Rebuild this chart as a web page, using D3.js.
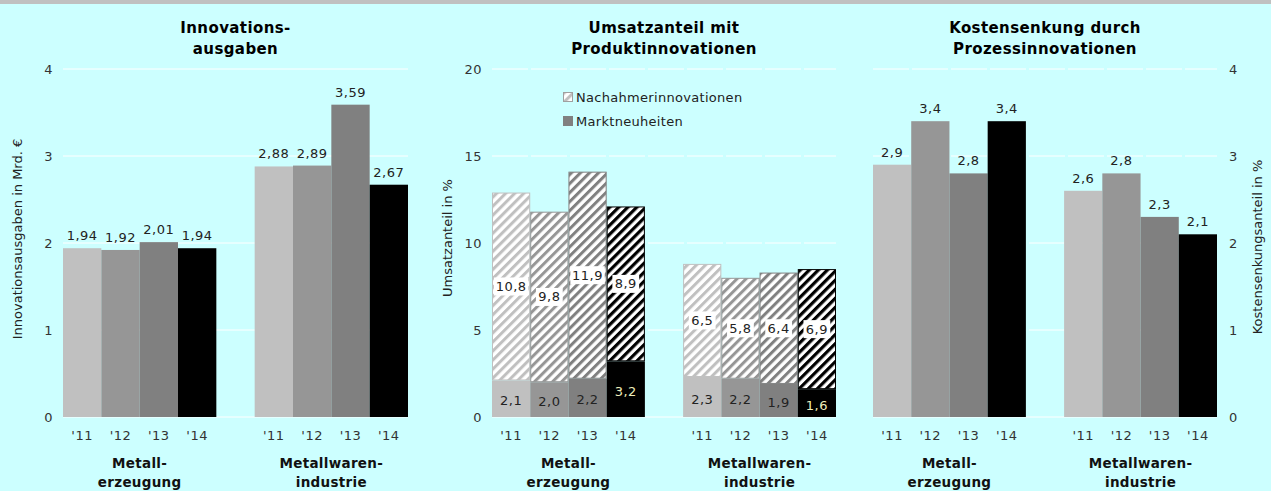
<!DOCTYPE html>
<html>
<head>
<meta charset="utf-8">
<script src="https://cdn.jsdelivr.net/npm/d3@7"></script>
<style>
  html, body { margin: 0; padding: 0; background: #ccffff; }
  svg { display: block; font-family: "DejaVu Sans", Verdana, sans-serif; }
</style>
</head>
<body>
<svg id="canvas"></svg>
<script>
const years = ["'11", "'12", "'13", "'14"];
const groups = ["Metallerzeugung", "Metallwarenindustrie"];
const groupLabels = [["Metall-", "erzeugung"], ["Metallwaren-", "industrie"]];

// Innovationsausgaben in Mrd. €
const ausgaben = [[1.94, 1.92, 2.01, 1.94], [2.88, 2.89, 3.59, 2.67]];
// Umsatzanteil in %
const marktneuheiten = [[2.1, 2.0, 2.2, 3.2], [2.3, 2.2, 1.9, 1.6]];
const nachahmer = [[10.8, 9.8, 11.9, 8.9], [6.5, 5.8, 6.4, 6.9]];
// Kostensenkungsanteil in %
const kostensenkung = [[2.9, 3.4, 2.8, 3.4], [2.6, 2.8, 2.3, 2.1]];

const ticksAusgaben = [0, 1, 2, 3, 4];
const ticksUmsatz = [0, 5, 10, 15, 20];
const ticksKosten = [0, 1, 2, 3, 4];

const yearColors = ["#c0c0c0", "#969696", "#808080", "#000000"];
const locale = d3.formatLocale({ decimal: ",", thousands: ".", grouping: [3], currency: ["", "€"] });
const f2 = locale.format(".2f");
const f1 = locale.format(".1f");

const W = 1271, H = 491;
const svg = d3.select("#canvas").attr("width", W).attr("height", H);

svg.append("rect").attr("width", W).attr("height", H).attr("fill", "#ccffff");
svg.append("rect").attr("width", W).attr("height", 4).attr("fill", "#c0c0c0");

// hatch patterns
const defs = svg.append("defs");
yearColors.forEach((c, i) => {
    const p = defs.append("pattern")
        .attr("id", "hatch" + i)
        .attr("patternUnits", "userSpaceOnUse")
        .attr("width", 6.4).attr("height", 6.4)
        .attr("patternTransform", "rotate(45)");
    p.append("rect").attr("width", 6.4).attr("height", 6.4).attr("fill", "#ffffff");
    p.append("rect").attr("x", 0).attr("width", i === 3 ? 3.2 : 3).attr("height", 6.4).attr("fill", c);
});

const yTop = 69, yBottom = 417;

const makePanel = (x0, x1, max) => {
    const xGroup = d3.scaleBand().domain(groups).range([x0, x1]).paddingInner(0.2).paddingOuter(0);
    const xYear = d3.scaleBand().domain(years).range([0, xGroup.bandwidth()]).padding(0);
    const y = d3.scaleLinear().domain([0, max]).range([yBottom, yTop]);
    return { xGroup, xYear, y, x0, x1 };
};

const drawGrid = (p, ticks, dashed) => {
    svg.append("g")
        .selectAll("line")
        .data(ticks)
        .enter()
        .append("line")
        .attr("x1", p.x0).attr("x2", p.x1)
        .attr("y1", d => p.y(d)).attr("y2", d => p.y(d))
        .attr("stroke", "#ffffff")
        .attr("stroke-width", 1)
        .attr("stroke-dasharray", d => (dashed && d > 0) ? "36,3" : null);
};

const drawTicks = (p, ticks, side) => {
    const axis = side === "left" ? d3.axisLeft(p.y) : d3.axisRight(p.y);
    const g = svg.append("g")
        .attr("transform", "translate(" + (side === "left" ? p.x0 : p.x1) + ",0)")
        .call(axis.tickValues(ticks).tickSize(0).tickPadding(side === "left" ? 10 : 12).tickFormat(d3.format("d")));
    g.select(".domain").remove();
    g.selectAll("text")
        .attr("font-family", "DejaVu Sans, Verdana, sans-serif")
        .attr("font-size", 13)
        .attr("letter-spacing", 0.5)
        .attr("fill", "#333333");
};

const drawXLabels = p => {
    groups.forEach((gname, gi) => {
        svg.append("g")
            .selectAll("text")
            .data(years)
            .enter()
            .append("text")
            .attr("x", d => p.xGroup(gname) + p.xYear(d) + p.xYear.bandwidth() / 2)
            .attr("y", 440)
            .attr("text-anchor", "middle")
            .attr("font-size", 13)
            .attr("letter-spacing", 0.5)
            .attr("fill", "#333333")
            .text(d => d);
        const cx = p.xGroup(gname) + p.xGroup.bandwidth() / 2;
        const t = svg.append("text")
            .attr("x", cx).attr("y", 468)
            .attr("text-anchor", "middle")
            .attr("font-size", 13.5)
            .attr("font-weight", "bold")
            .attr("letter-spacing", 0.3)
            .attr("fill", "#111111");
        t.append("tspan").attr("x", cx).attr("dy", 0).text(groupLabels[gi][0]);
        t.append("tspan").attr("x", cx).attr("dy", 19).text(groupLabels[gi][1]);
    });
};

const drawTitle = (p, lines) => {
    const cx = (p.x0 + p.x1) / 2;
    const t = svg.append("text")
        .attr("x", cx).attr("y", 33)
        .attr("text-anchor", "middle")
        .attr("font-size", 15)
        .attr("font-weight", "bold")
        .attr("letter-spacing", 0.4)
        .attr("fill", "#000000");
    t.append("tspan").attr("x", cx).attr("dy", 0).text(lines[0]);
    t.append("tspan").attr("x", cx).attr("dy", 21).text(lines[1]);
};

const drawAxisTitle = (x, y, text) => {
    svg.append("text")
        .attr("transform", "translate(" + x + "," + y + ") rotate(-90)")
        .attr("text-anchor", "middle")
        .attr("dy", "0.35em")
        .attr("font-size", 13)
        .attr("fill", "#222222")
        .text(text);
};

const drawSimpleBars = (p, values, fmt) => {
    groups.forEach((gname, gi) => {
        const g = svg.append("g");
        g.selectAll("rect")
            .data(values[gi])
            .enter()
            .append("rect")
            .attr("x", (d, i) => p.xGroup(gname) + p.xYear(years[i]))
            .attr("y", d => p.y(d))
            .attr("width", p.xYear.bandwidth())
            .attr("height", d => p.y(0) - p.y(d))
            .attr("fill", (d, i) => yearColors[i]);
        g.selectAll("text")
            .data(values[gi])
            .enter()
            .append("text")
            .attr("x", (d, i) => p.xGroup(gname) + p.xYear(years[i]) + p.xYear.bandwidth() / 2)
            .attr("y", d => p.y(d) - 8)
            .attr("text-anchor", "middle")
            .attr("font-size", 13)
            .attr("letter-spacing", 0.5)
            .attr("fill", "#222222")
            .text(d => fmt(d));
    });
};

// panels
const p1 = makePanel(63, 408, 4);
const p2 = makePanel(492, 836, 20);
const p3 = makePanel(873, 1217, 4);

drawGrid(p1, ticksAusgaben, false);
drawGrid(p2, ticksUmsatz, true);
drawGrid(p3, ticksKosten, true);

drawTicks(p1, ticksAusgaben, "left");
drawTicks(p2, ticksUmsatz, "left");
drawTicks(p3, ticksKosten, "right");

drawTitle(p1, ["Innovations-", "ausgaben"]);
drawTitle(p2, ["Umsatzanteil mit", "Produktinnovationen"]);
drawTitle(p3, ["Kostensenkung durch", "Prozessinnovationen"]);

drawAxisTitle(17, 239, "Innovationsausgaben in Mrd. €");
drawAxisTitle(447, 238, "Umsatzanteil in %");
drawAxisTitle(1257, 247, "Kostensenkungsanteil in  %");

drawXLabels(p1);
drawXLabels(p2);
drawXLabels(p3);

drawSimpleBars(p1, ausgaben, f2);
drawSimpleBars(p3, kostensenkung, f1);

// stacked panel
groups.forEach((gname, gi) => {
    const g = svg.append("g");
    const bw = p2.xYear.bandwidth();
    const xs = i => p2.xGroup(gname) + p2.xYear(years[i]);

    // Marktneuheiten (bottom)
    g.selectAll("rect.mn")
        .data(marktneuheiten[gi])
        .enter()
        .append("rect")
        .attr("class", "mn")
        .attr("x", (d, i) => xs(i))
        .attr("y", d => p2.y(d))
        .attr("width", bw)
        .attr("height", d => p2.y(0) - p2.y(d))
        .attr("fill", (d, i) => yearColors[i]);

    // Nachahmerinnovationen (top, hatched)
    g.selectAll("rect.na")
        .data(nachahmer[gi])
        .enter()
        .append("rect")
        .attr("class", "na")
        .attr("x", (d, i) => xs(i) + 0.5)
        .attr("y", (d, i) => p2.y(marktneuheiten[gi][i] + d) + 0.5)
        .attr("width", bw - 1)
        .attr("height", (d, i) => p2.y(marktneuheiten[gi][i]) - p2.y(marktneuheiten[gi][i] + d) - 1)
        .attr("fill", (d, i) => "url(#hatch" + i + ")")
        .attr("stroke", (d, i) => yearColors[i])
        .attr("stroke-width", 1);

    // labels for Nachahmer with white box
    nachahmer[gi].forEach((d, i) => {
        const cy = (p2.y(marktneuheiten[gi][i]) + p2.y(marktneuheiten[gi][i] + d)) / 2;
        const cx = xs(i) + bw / 2;
        const txt = f1(d);
        const tw = txt.length * 7.6;
        g.append("rect")
            .attr("x", cx - tw / 2 - 2).attr("y", cy - 9)
            .attr("width", tw + 4).attr("height", 18)
            .attr("fill", "#ffffff");
        g.append("text")
            .attr("x", cx).attr("y", cy)
            .attr("dy", "0.35em")
            .attr("text-anchor", "middle")
            .attr("font-size", 13)
            .attr("letter-spacing", 0.5)
            .attr("fill", "#222222")
            .text(txt);
    });

    // labels for Marktneuheiten
    g.selectAll("text.mnl")
        .data(marktneuheiten[gi])
        .enter()
        .append("text")
        .attr("class", "mnl")
        .attr("x", (d, i) => xs(i) + bw / 2)
        .attr("y", d => (p2.y(0) + p2.y(d)) / 2 + 2)
        .attr("dy", "0.35em")
        .attr("text-anchor", "middle")
        .attr("font-size", 13)
        .attr("letter-spacing", 0.5)
        .attr("fill", (d, i) => i === 3 ? "#eeeebb" : "#222222")
        .text(d => f1(d));
});

// legend
const legend = [
    { name: "Nachahmerinnovationen", fill: "url(#hatch0)", stroke: "#a0a0a0" },
    { name: "Marktneuheiten", fill: "#808080", stroke: "#808080" }
];
const lg = svg.append("g").attr("transform", "translate(563,92)");
legend.forEach((l, i) => {
    lg.append("rect")
        .attr("x", 0.5).attr("y", i * 24 + 0.5)
        .attr("width", 9).attr("height", 9)
        .attr("fill", l.fill)
        .attr("stroke", l.stroke);
    lg.append("text")
        .attr("x", 13).attr("y", i * 24 + 5)
        .attr("dy", "0.35em")
        .attr("font-size", 13)
        .attr("letter-spacing", 0.3)
        .attr("fill", "#222222")
        .text(l.name);
});
</script>
</body>
</html>
